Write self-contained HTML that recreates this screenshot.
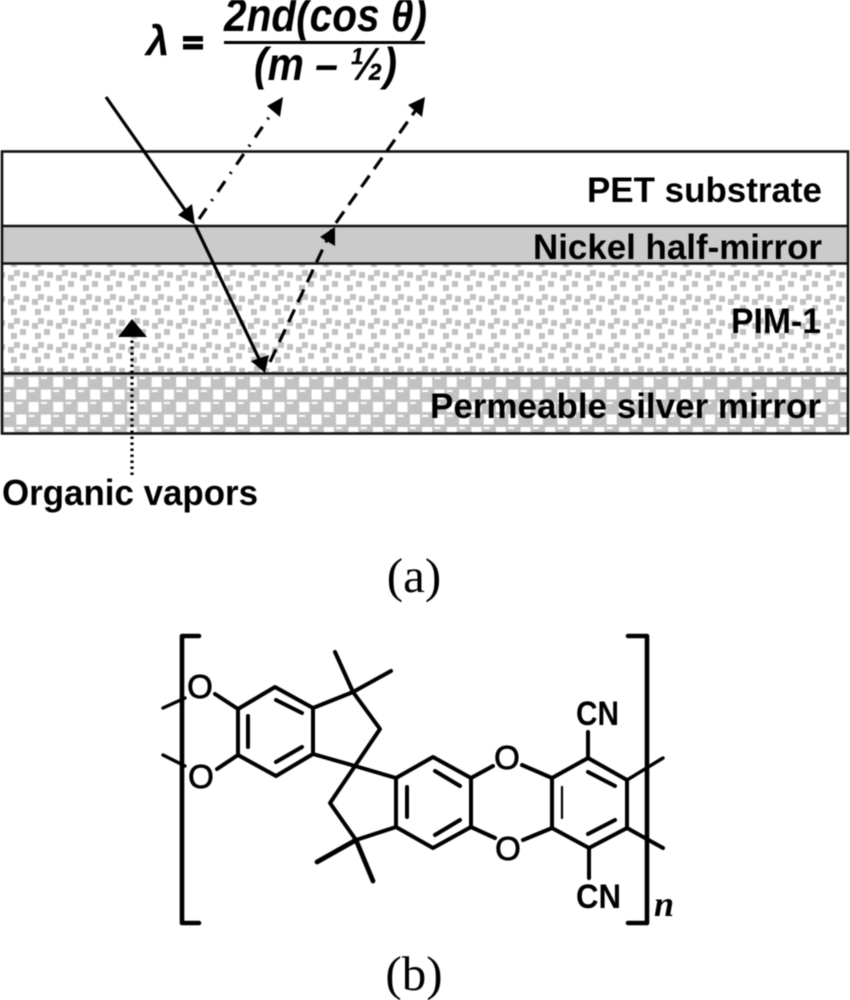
<!DOCTYPE html>
<html><head><meta charset="utf-8"><style>
html,body{margin:0;padding:0;background:#fff;width:850px;height:1000px;overflow:hidden}
svg{display:block;filter:blur(.5px)}
.s{font-family:"Liberation Sans",sans-serif;font-weight:bold;fill:#000}
.i{font-style:italic}
.r{font-family:"Liberation Serif",serif;fill:#000}
.m line,.m polyline,.m polygon{stroke:#000;stroke-width:4;fill:none;stroke-linecap:round;stroke-linejoin:round}
.m .t{stroke-width:3.4}
</style></head><body>
<svg width="850" height="1000" viewBox="0 0 850 1000" xmlns="http://www.w3.org/2000/svg">
<defs>
<pattern id="p" width="24" height="24" patternUnits="userSpaceOnUse" x="2" y="264">
<rect width="24" height="24" fill="#fff"/>
<g fill="#c2c2c2">
<rect x="6" y="11" width="6" height="6"/><rect x="12" y="6" width="6" height="6"/>
<rect x="21" y="8" width="3" height="6"/><rect x="0" y="8" width="3" height="6"/>
<rect x="9" y="21" width="6" height="3"/><rect x="9" y="0" width="6" height="3"/>
<rect x="18" y="17" width="6" height="6"/>
</g></pattern>
<pattern id="q" width="24.6" height="25" patternUnits="userSpaceOnUse" x="2" y="375">
<rect width="24.6" height="25" fill="#c2c2c2"/>
<g fill="#fff">
<rect x="2" y="2" width="10" height="10"/><rect x="14.3" y="14.5" width="10" height="10"/>
<rect x="2" y="15" width="6" height="2"/><rect x="14.3" y="2" width="6" height="2"/>
</g></pattern>
</defs>
<rect width="850" height="1000" fill="#fff"/>

<!-- layers -->
<rect x="2" y="152" width="846" height="74" fill="#fff"/>
<rect x="2" y="226" width="846" height="38" fill="#cbcbcb"/>
<rect x="2" y="264" width="846" height="110" fill="url(#p)"/>
<rect x="2" y="374" width="846" height="60" fill="url(#q)"/>
<g stroke="#111" fill="none">
<rect x="2" y="151.5" width="846" height="282" stroke-width="2.6"/>
<line x1="2" x2="848" y1="226" y2="226" stroke-width="2.6"/>
<line x1="2" x2="848" y1="263.5" y2="263.5" stroke-width="2.6"/>
<line x1="2" x2="848" y1="373.5" y2="373.5" stroke-width="2.6"/>
</g>

<!-- layer labels -->
<text class="s" x="587" y="202" font-size="35" textLength="235" lengthAdjust="spacingAndGlyphs">PET substrate</text>
<text class="s" x="533" y="259" font-size="35" textLength="289" lengthAdjust="spacingAndGlyphs">Nickel half-mirror</text>
<text class="s" x="731" y="333" font-size="35" textLength="90" lengthAdjust="spacingAndGlyphs">PIM-1</text>
<text class="s" x="430" y="418" font-size="35" textLength="391" lengthAdjust="spacingAndGlyphs">Permeable silver mirror</text>
<text class="s" x="2" y="505" font-size="36" textLength="256" lengthAdjust="spacingAndGlyphs">Organic vapors</text>

<!-- formula -->
<text class="s i" x="146" y="55" font-size="42">λ</text>
<rect x="183" y="36" width="20" height="5.5" fill="#000"/>
<rect x="183" y="44" width="20" height="5.5" fill="#000"/>
<text class="s i" x="224" y="31" font-size="46" textLength="203" lengthAdjust="spacingAndGlyphs">2nd(cos θ)</text>
<rect x="224" y="41" width="201" height="3" fill="#000"/>
<text class="s i" x="254" y="80" font-size="46" textLength="143" lengthAdjust="spacingAndGlyphs">(m – ½)</text>

<!-- rays -->
<g stroke="#000" fill="none" stroke-width="3.2">
<line x1="106" y1="97" x2="192" y2="220"/>
<line x1="195" y1="225" x2="262" y2="365"/>
<line x1="199" y1="219" x2="274" y2="110" stroke-dasharray="13 9 2 9"/>
<polyline points="270,362 333,227 418,107" stroke-dasharray="14 8"/>
<line x1="132" y1="475" x2="132" y2="336" stroke-dasharray="2.5 3.5"/>
</g>
<g fill="#000">
<polygon points="195,225 178,215 192,204"/>
<polygon points="265,373 251,361 269,355"/>
<polygon points="283,97 280,117 267,106"/>
<polygon points="425,97 422,117 408,105"/>
<polygon points="335,227 335,246 320,237"/>
<polygon points="132,319 147,337 118,337"/>
</g>

<text class="r" x="414" y="592" font-size="49" text-anchor="middle">(a)</text>
<text class="r" x="414" y="990" font-size="49" text-anchor="middle">(b)</text>

<!-- molecule -->
<g class="m">
<polyline points="199,636 182,636 182,923 199,923" style="stroke-width:4.6"/>
<polyline points="628,636 647,636 647,923 628,923" style="stroke-width:4.6"/>
<line class="t" x1="163" y1="708" x2="185" y2="698"/>
<line class="t" x1="163" y1="755" x2="185" y2="766"/>
<line x1="215" y1="694" x2="238" y2="709"/>
<line x1="217" y1="769" x2="238" y2="755"/>
<polygon points="238,709 275,687 313,708 313,754 276,776 238,755"/>
<line x1="248" y1="716" x2="248" y2="747"/>
<line x1="276" y1="700" x2="302" y2="713"/>
<line x1="276" y1="762" x2="302" y2="747"/>
<polyline points="313,708 353,692 380,729 355,766 313,754"/>
<line x1="353" y1="692" x2="335" y2="652"/>
<line x1="353" y1="692" x2="391" y2="671"/>
<polyline points="355,766 330,803 356,840 396,827 396,778 355,766"/>
<line x1="356" y1="840" x2="317" y2="862" style="stroke-width:4.8"/>
<line x1="356" y1="840" x2="373" y2="881" style="stroke-width:4.8"/>
<polygon points="396,778 433,757 471,778 471,827 433,848 396,827"/>
<line x1="407" y1="787" x2="407" y2="817"/>
<line x1="435" y1="771" x2="460" y2="786"/>
<line x1="435" y1="835" x2="460" y2="820"/>
<line x1="471" y1="778" x2="493" y2="766"/>
<line x1="522" y1="765" x2="552" y2="778"/>
<line x1="471" y1="827" x2="495" y2="838"/>
<line x1="523" y1="840" x2="552" y2="828"/>
<polygon points="552,778 588,758 627,780 627,828 589,848 552,828"/>
<line class="t" x1="562" y1="787" x2="562" y2="818" style="stroke-width:2.2"/>
<line x1="588" y1="772" x2="615" y2="786"/>
<line x1="588" y1="834" x2="615" y2="820"/>
<line x1="588" y1="732" x2="588" y2="758"/>
<line x1="589" y1="848" x2="589" y2="878"/>
<line class="t" x1="627" y1="780" x2="663" y2="758"/>
<line x1="627" y1="828" x2="663" y2="848"/>
</g>
<g font-family="Liberation Sans, sans-serif" font-size="33" text-anchor="middle" stroke="#000" stroke-width=".8" fill="#000">
<text x="200" y="698">O</text>
<text x="201" y="788">O</text>
<text x="507" y="769">O</text>
<text x="508" y="860">O</text>
</g>
<text class="s" x="576" y="725" font-size="34" textLength="43" lengthAdjust="spacingAndGlyphs">CN</text>
<text class="s" x="576" y="908" font-size="34" textLength="45" lengthAdjust="spacingAndGlyphs">CN</text>
<text class="r i" x="654" y="916" font-size="36" font-weight="bold">n</text>
</svg>
</body></html>
